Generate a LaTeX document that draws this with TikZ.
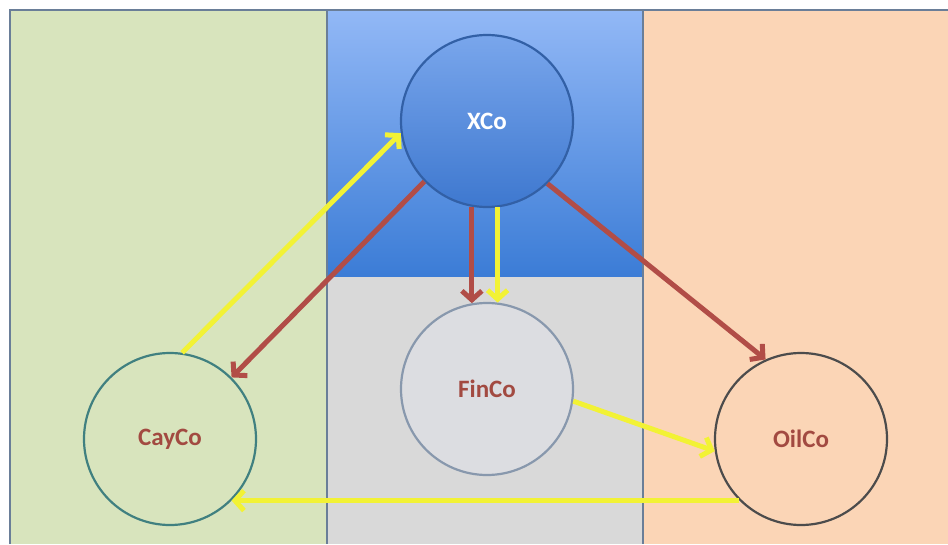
\documentclass[tikz,border=0pt]{standalone}
\usepackage{fontspec}
\setsansfont{Carlito}
\usepackage{tikz}
\usetikzlibrary{positioning, arrows.meta}
\usepackage{xcolor}

\definecolor{bggreen}{HTML}{D8E4BD}
\definecolor{bggray}{HTML}{D9D9D9}
\definecolor{bgorange}{HTML}{FBD5B6}
\definecolor{bgbluetop}{HTML}{92B8F6}
\definecolor{bgbluebot}{HTML}{3B7CD6}
\definecolor{framecol}{HTML}{6A7E98}
\definecolor{ballbluetop}{HTML}{79A6EC}
\definecolor{ballbluebot}{HTML}{3E78CF}
\definecolor{ballgray}{HTML}{DCDDE1}
\definecolor{labelred}{HTML}{A24A41}
\definecolor{arrowred}{HTML}{B14D47}
\definecolor{arrowyellow}{HTML}{F2F235}

\begin{document}
\begin{tikzpicture}[x=1pt, y=-1pt,
    company/.style={circle, minimum size=172pt, inner sep=0pt, line width=2.2pt,
        font=\sffamily\bfseries\fontsize{25}{28}\selectfont, text=labelred},
    flow/.style={line width=5pt, -{Straight Barb[length=9pt, width=20pt]}},
    redflow/.style={flow, draw=arrowred},
    yellowflow/.style={flow, draw=arrowyellow}]
    \useasboundingbox (0,0) rectangle (948,544);

    % Background columns
    \fill[white] (0,0) rectangle (948,544);
    \fill[bggreen] (10,10) rectangle (327,544);
    \shade[top color=bgbluetop, bottom color=bgbluebot] (327,10) rectangle (643,277);
    \fill[bggray] (327,277) rectangle (643,544);
    \fill[bgorange] (643,10) rectangle (948,544);

    % Frame lines
    \draw[framecol, line width=1.5pt] (10,544) -- (10,10) -- (948,10);
    \draw[framecol, line width=1.5pt] (327,10) -- (327,544);
    \draw[framecol, line width=1.5pt] (643,10) -- (643,544);

    % Companies
    \node[company, top color=ballbluetop, bottom color=ballbluebot, draw=ballbluebot!80!black, text=white] (xco) at (487,121) {XCo};
    \node[company, fill=ballgray, draw=framecol!80] (finco) at (487,389) {FinCo};
    \node[company, fill=bggreen, draw=teal!50!gray] (cayco) at (170,439) {CayCo};
    \node[company, fill=bgorange, draw=gray!60!black] (oilco) at (801,439) {OilCo};

    % Flows
    \draw[yellowflow] (cayco.82) -- (xco.188);
    \draw[redflow] (xco.224) -- (cayco.45);
    \draw[redflow] (xco.260) -- (finco.100);
    \draw[yellowflow] (xco.277) -- (finco.83);
    \draw[redflow] (xco.314) -- (oilco.114);
    \draw[yellowflow] (finco.352) -- (oilco.188);
    \draw[yellowflow] (oilco.225) -- (cayco.315);

\end{tikzpicture}
\end{document}
